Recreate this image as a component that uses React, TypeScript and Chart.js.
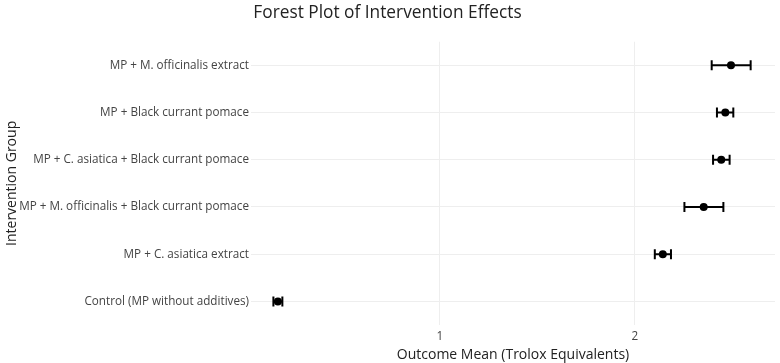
import React, { useEffect, useRef } from "react";
import { Chart, registerables } from "chart.js";

Chart.register(...registerables);

const groups = [
  "Control (MP without additives)",
  "MP + C. asiatica extract",
  "MP + M. officinalis + Black currant pomace",
  "MP + C. asiatica + Black currant pomace",
  "MP + Black currant pomace",
  "MP + M. officinalis extract",
];
const means = [0.168, 2.144, 2.354, 2.444, 2.465, 2.494];
const lower = [0.145, 2.103, 2.255, 2.402, 2.422, 2.395];
const upper = [0.191, 2.186, 2.455, 2.487, 2.506, 2.595];
const xTicks = [1, 2];

const FONT = '"Open Sans", Verdana, Arial, sans-serif';

const errorBarPlugin = {
  id: "errorBars",
  afterDatasetsDraw(chart: any) {
    const { ctx, scales } = chart;
    const xs = scales.x;
    const ys = scales.y;
    ctx.save();
    ctx.strokeStyle = "#000";
    ctx.lineWidth = 2;
    for (let i = 0; i < means.length; i++) {
      const y = ys.getPixelForValue(i);
      const x1 = xs.getPixelForValue(lower[i]);
      const x2 = xs.getPixelForValue(upper[i]);
      ctx.beginPath();
      ctx.moveTo(x1, y);
      ctx.lineTo(x2, y);
      ctx.moveTo(x1, y - 5);
      ctx.lineTo(x1, y + 5);
      ctx.moveTo(x2, y - 5);
      ctx.lineTo(x2, y + 5);
      ctx.stroke();
    }
    ctx.restore();
  },
};

export default function App() {
  const ref = useRef<HTMLCanvasElement>(null);
  useEffect(() => {
    document.body.style.margin = "0";
    const chart = new Chart(ref.current!, {
      type: "scatter",
      data: {
        datasets: [
          {
            data: means.map((m, i) => ({ x: m, y: i })),
            backgroundColor: "#000",
            borderColor: "#000",
            borderWidth: 0,
            pointRadius: 4,
            pointHoverRadius: 4,
          },
        ],
      },
      plugins: [errorBarPlugin],
      options: {
        animation: false,
        responsive: false,
        maintainAspectRatio: false,
        layout: { padding: { left: 0, right: 5, top: 0, bottom: 0 } },
        plugins: {
          legend: { display: false },
          tooltip: { enabled: false },
          title: {
            display: true,
            text: "Forest Plot of Intervention Effects",
            color: "#222",
            font: { family: FONT, size: 17.3, weight: "normal" },
            padding: { top: 3, bottom: 18 },
          },
        },
        scales: {
          x: {
            type: "linear",
            min: 0.03,
            max: 2.72,
            afterBuildTicks: (s: any) => {
              s.ticks = xTicks.map((v) => ({ value: v }));
            },
            afterFit: (s: any) => {
              s.height = 38;
            },
            grid: { color: "#eeeeee", drawTicks: false, lineWidth: 1 },
            border: { display: false },
            ticks: {
              color: "#444",
              padding: 5,
              font: { family: FONT, size: 11.7 },
            },
            title: {
              display: true,
              text: "Outcome Mean (Trolox Equivalents)",
              color: "#222",
              font: { family: FONT, size: 14 },
              padding: { top: 0, bottom: 0 },
            },
          },
          y: {
            type: "linear",
            min: -0.5,
            max: 5.5,
            afterBuildTicks: (s: any) => {
              s.ticks = groups.map((_, i) => ({ value: i }));
            },
            afterFit: (s: any) => {
              s.width = 251;
            },
            grid: { color: "#eeeeee", drawTicks: false, lineWidth: 1 },
            border: { display: false },
            ticks: {
              color: "#444",
              padding: 2,
              font: { family: FONT, size: 11.7 },
              callback: (v: any) => groups[v as number] ?? "",
            },
            title: {
              display: true,
              text: "Intervention Group",
              color: "#222",
              font: { family: FONT, size: 14 },
              padding: { top: 4, bottom: 0 },
            },
          },
        },
      },
    });
    return () => chart.destroy();
  }, []);
  return (
    <div style={{ width: 780, height: 363, background: "#fff" }}>
      <canvas ref={ref} width={780} height={363} />
    </div>
  );
}
